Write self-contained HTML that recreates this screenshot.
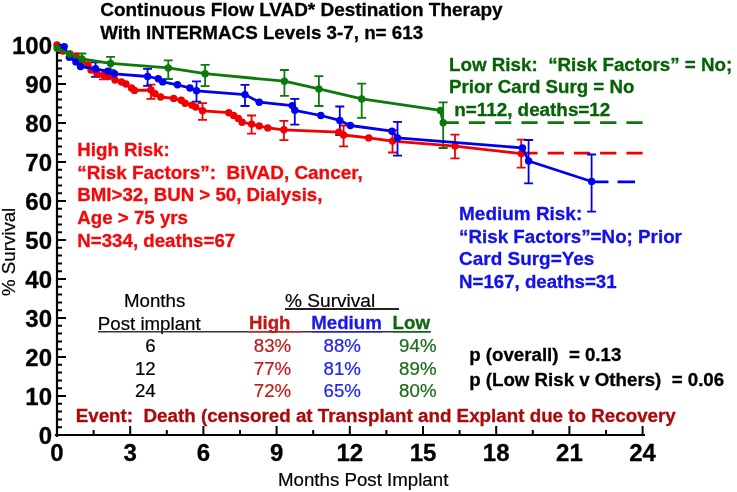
<!DOCTYPE html>
<html><head><meta charset="utf-8"><style>
html,body{margin:0;padding:0;background:#fff;}
svg{display:block;}
text{font-family:"Liberation Sans",Arial,sans-serif;white-space:pre;}
.b{font-weight:bold;font-size:18.7px;}
.r{font-size:18.7px;}
</style></head><body>
<svg width="737" height="492" viewBox="0 0 737 492">
<rect width="737" height="492" fill="#fff"/>
<g class="b" fill="#000" stroke="#000" stroke-width="0.3">
<text x="100.3" y="16.2" font-size="18.95">Continuous Flow LVAD* Destination Therapy</text>
<text x="100.3" y="38.9" font-size="18.8">With INTERMACS Levels 3-7, n= 613</text>
</g>
<!-- axes -->
<path d="M57,44 V437 M55,435 H645" stroke="#000" stroke-width="2.2" fill="none"/>
<path d="M57,435.0 h9 M57,427.2 h5 M57,419.4 h5 M57,411.6 h5 M57,403.8 h5 M57,396.0 h9 M57,388.2 h5 M57,380.4 h5 M57,372.6 h5 M57,364.8 h5 M57,357.0 h9 M57,349.2 h5 M57,341.4 h5 M57,333.6 h5 M57,325.8 h5 M57,318.0 h9 M57,310.2 h5 M57,302.4 h5 M57,294.6 h5 M57,286.8 h5 M57,279.0 h9 M57,271.2 h5 M57,263.4 h5 M57,255.6 h5 M57,247.8 h5 M57,240.0 h9 M57,232.2 h5 M57,224.4 h5 M57,216.6 h5 M57,208.8 h5 M57,201.0 h9 M57,193.2 h5 M57,185.4 h5 M57,177.6 h5 M57,169.8 h5 M57,162.0 h9 M57,154.2 h5 M57,146.4 h5 M57,138.6 h5 M57,130.8 h5 M57,123.0 h9 M57,115.2 h5 M57,107.4 h5 M57,99.6 h5 M57,91.8 h5 M57,84.0 h9 M57,76.2 h5 M57,68.4 h5 M57,60.6 h5 M57,52.8 h5 M57,45.0 h9 M57.0,435 v-9 M93.6,435 v-5 M130.2,435 v-9 M166.8,435 v-5 M203.4,435 v-9 M240.0,435 v-5 M276.6,435 v-9 M313.2,435 v-5 M349.8,435 v-9 M386.4,435 v-5 M423.0,435 v-9 M459.6,435 v-5 M496.2,435 v-9 M532.8,435 v-5 M569.4,435 v-9 M606.0,435 v-5 M642.6,435 v-9" stroke="#000" stroke-width="2" fill="none"/>
<g font-weight="bold" font-size="24" fill="#000" stroke="#000" stroke-width="0.3">
<text x="52" y="443.9" text-anchor="end">0</text>
<text x="52" y="404.9" text-anchor="end">10</text>
<text x="52" y="365.9" text-anchor="end">20</text>
<text x="52" y="326.9" text-anchor="end">30</text>
<text x="52" y="287.9" text-anchor="end">40</text>
<text x="52" y="248.9" text-anchor="end">50</text>
<text x="52" y="209.9" text-anchor="end">60</text>
<text x="52" y="170.9" text-anchor="end">70</text>
<text x="52" y="131.9" text-anchor="end">80</text>
<text x="52" y="92.9" text-anchor="end">90</text>
<text x="52" y="53.9" text-anchor="end">100</text>
<text x="57.0" y="460.8" text-anchor="middle">0</text>
<text x="130.2" y="460.8" text-anchor="middle">3</text>
<text x="203.4" y="460.8" text-anchor="middle">6</text>
<text x="276.6" y="460.8" text-anchor="middle">9</text>
<text x="349.8" y="460.8" text-anchor="middle">12</text>
<text x="423.0" y="460.8" text-anchor="middle">15</text>
<text x="496.2" y="460.8" text-anchor="middle">18</text>
<text x="569.4" y="460.8" text-anchor="middle">21</text>
<text x="642.6" y="460.8" text-anchor="middle">24</text>
</g>
<text class="r" stroke="#000" stroke-width="0.2" transform="translate(15.2,296) rotate(-90)">% Survival</text>
<text class="r" stroke="#000" stroke-width="0.2" x="278" y="486">Months Post Implant</text>
<!-- dashed tails -->
<path d="M626.4,122.7 H642.6 M600.1,122.7 H616.4 M573.9,122.7 H590.1 M547.6,122.7 H563.9 M521.4,122.7 H537.6 M495.1,122.7 H511.3 M468.9,122.7 H485.1 M443.0,122.7 H458.8" stroke="#0b7a0b" stroke-width="2.7" fill="none"/>
<path d="M626.4,153.2 H642.6 M600.1,153.2 H616.4 M573.9,153.2 H590.1 M547.6,153.2 H563.9 M521.4,153.2 H537.6" stroke="#f00000" stroke-width="2.7" fill="none"/>
<path d="M591,181.8 H608.5 M617.5,181.8 H635" stroke="#0000f0" stroke-width="2.7" fill="none"/>
<path d="M103.5,70.0 V79.4 M99.0,70.0 H108.0 M99.0,79.4 H108.0" stroke="#f00000" stroke-width="1.8" fill="none"/>
<path d="M151.0,84.6 V98.8 M146.5,84.6 H155.5 M146.5,98.8 H155.5" stroke="#f00000" stroke-width="1.8" fill="none"/>
<path d="M202.5,103.2 V119.9 M198.0,103.2 H207.0 M198.0,119.9 H207.0" stroke="#f00000" stroke-width="1.8" fill="none"/>
<path d="M251.6,115.5 V133.6 M247.1,115.5 H256.1 M247.1,133.6 H256.1" stroke="#f00000" stroke-width="1.8" fill="none"/>
<path d="M283.9,120.8 V140.2 M279.4,120.8 H288.4 M279.4,140.2 H288.4" stroke="#f00000" stroke-width="1.8" fill="none"/>
<path d="M343.6,125.5 V146.4 M339.1,125.5 H348.1 M339.1,146.4 H348.1" stroke="#f00000" stroke-width="1.8" fill="none"/>
<path d="M392.5,130.1 V152.5 M388.0,130.1 H397.0 M388.0,152.5 H397.0" stroke="#f00000" stroke-width="1.8" fill="none"/>
<path d="M455.0,134.7 V158.3 M450.5,134.7 H459.5 M450.5,158.3 H459.5" stroke="#f00000" stroke-width="1.8" fill="none"/>
<path d="M521.2,139.7 V167.7 M516.7,139.7 H525.7 M516.7,167.7 H525.7" stroke="#f00000" stroke-width="1.8" fill="none"/>
<path d="M95.6,62.4 V76.8 M91.1,62.4 H100.1 M91.1,76.8 H100.1" stroke="#0000f0" stroke-width="1.8" fill="none"/>
<path d="M147.6,68.8 V85.8 M143.1,68.8 H152.1 M143.1,85.8 H152.1" stroke="#0000f0" stroke-width="1.8" fill="none"/>
<path d="M196.5,81.3 V101.7 M192.0,81.3 H201.0 M192.0,101.7 H201.0" stroke="#0000f0" stroke-width="1.8" fill="none"/>
<path d="M245.0,84.8 V106.0 M240.5,84.8 H249.5 M240.5,106.0 H249.5" stroke="#0000f0" stroke-width="1.8" fill="none"/>
<path d="M294.8,98.9 V124.6 M290.3,98.9 H299.3 M290.3,124.6 H299.3" stroke="#0000f0" stroke-width="1.8" fill="none"/>
<path d="M339.8,106.5 V135.0 M335.3,106.5 H344.3 M335.3,135.0 H344.3" stroke="#0000f0" stroke-width="1.8" fill="none"/>
<path d="M397.5,121.9 V155.7 M393.0,121.9 H402.0 M393.0,155.7 H402.0" stroke="#0000f0" stroke-width="1.8" fill="none"/>
<path d="M528.6,140.0 V183.3 M524.1,140.0 H533.1 M524.1,183.3 H533.1" stroke="#0000f0" stroke-width="1.8" fill="none"/>
<path d="M591.6,154.5 V211.7 M587.1,154.5 H596.1 M587.1,211.7 H596.1" stroke="#0000f0" stroke-width="1.8" fill="none"/>
<path d="M81.8,53.5 V64.5 M77.3,53.5 H86.3 M77.3,64.5 H86.3" stroke="#0b7a0b" stroke-width="1.8" fill="none"/>
<path d="M110.6,56.9 V69.9 M106.1,56.9 H115.1 M106.1,69.9 H115.1" stroke="#0b7a0b" stroke-width="1.8" fill="none"/>
<path d="M168.3,60.3 V79.0 M163.8,60.3 H172.8 M163.8,79.0 H172.8" stroke="#0b7a0b" stroke-width="1.8" fill="none"/>
<path d="M205.1,64.8 V86.1 M200.6,64.8 H209.6 M200.6,86.1 H209.6" stroke="#0b7a0b" stroke-width="1.8" fill="none"/>
<path d="M284.4,70.0 V95.8 M279.9,70.0 H288.9 M279.9,95.8 H288.9" stroke="#0b7a0b" stroke-width="1.8" fill="none"/>
<path d="M318.9,76.1 V106.0 M314.4,76.1 H323.4 M314.4,106.0 H323.4" stroke="#0b7a0b" stroke-width="1.8" fill="none"/>
<path d="M361.7,83.7 V117.9 M357.2,83.7 H366.2 M357.2,117.9 H366.2" stroke="#0b7a0b" stroke-width="1.8" fill="none"/>
<path d="M443.2,102.4 V148.0 M438.7,102.4 H447.7 M438.7,148.0 H447.7" stroke="#0b7a0b" stroke-width="1.8" fill="none"/>
<path d="M57.0,44.9 L63.0,51.0 L70.0,54.0 L76.0,56.0 L82.0,60.0 L88.0,65.0 L91.0,70.0 L97.0,73.8 L103.5,75.0 L108.5,76.5 L115.0,80.0 L121.5,82.0 L126.0,84.0 L131.5,88.0 L134.5,90.4 L151.0,90.0 L155.0,93.7 L160.6,97.0 L173.7,98.4 L181.3,100.3 L185.1,103.2 L191.8,105.1 L195.6,107.0 L202.5,110.8 L228.8,112.7 L233.6,115.5 L238.3,118.4 L242.1,122.2 L251.6,124.1 L259.2,126.0 L267.8,127.9 L283.9,129.8 L338.9,132.2 L343.6,135.0 L368.7,137.9 L392.5,141.1 L455.0,146.1 L521.2,153.6" fill="none" stroke="#f00000" stroke-width="2.8" stroke-linejoin="round"/>
<circle cx="57.0" cy="44.9" r="3.7" fill="#f00000"/>
<circle cx="63.0" cy="51.0" r="3.7" fill="#f00000"/>
<circle cx="70.0" cy="54.0" r="3.7" fill="#f00000"/>
<circle cx="76.0" cy="56.0" r="3.7" fill="#f00000"/>
<circle cx="82.0" cy="60.0" r="3.7" fill="#f00000"/>
<circle cx="88.0" cy="65.0" r="3.7" fill="#f00000"/>
<circle cx="91.0" cy="70.0" r="3.7" fill="#f00000"/>
<circle cx="97.0" cy="73.8" r="3.7" fill="#f00000"/>
<circle cx="103.5" cy="75.0" r="3.7" fill="#f00000"/>
<circle cx="108.5" cy="76.5" r="3.7" fill="#f00000"/>
<circle cx="115.0" cy="80.0" r="3.7" fill="#f00000"/>
<circle cx="121.5" cy="82.0" r="3.7" fill="#f00000"/>
<circle cx="126.0" cy="84.0" r="3.7" fill="#f00000"/>
<circle cx="131.5" cy="88.0" r="3.7" fill="#f00000"/>
<circle cx="134.5" cy="90.4" r="3.7" fill="#f00000"/>
<circle cx="151.0" cy="90.0" r="3.7" fill="#f00000"/>
<circle cx="155.0" cy="93.7" r="3.7" fill="#f00000"/>
<circle cx="160.6" cy="97.0" r="3.7" fill="#f00000"/>
<circle cx="173.7" cy="98.4" r="3.7" fill="#f00000"/>
<circle cx="181.3" cy="100.3" r="3.7" fill="#f00000"/>
<circle cx="185.1" cy="103.2" r="3.7" fill="#f00000"/>
<circle cx="191.8" cy="105.1" r="3.7" fill="#f00000"/>
<circle cx="195.6" cy="107.0" r="3.7" fill="#f00000"/>
<circle cx="202.5" cy="110.8" r="3.7" fill="#f00000"/>
<circle cx="228.8" cy="112.7" r="3.7" fill="#f00000"/>
<circle cx="233.6" cy="115.5" r="3.7" fill="#f00000"/>
<circle cx="238.3" cy="118.4" r="3.7" fill="#f00000"/>
<circle cx="242.1" cy="122.2" r="3.7" fill="#f00000"/>
<circle cx="251.6" cy="124.1" r="3.7" fill="#f00000"/>
<circle cx="259.2" cy="126.0" r="3.7" fill="#f00000"/>
<circle cx="267.8" cy="127.9" r="3.7" fill="#f00000"/>
<circle cx="283.9" cy="129.8" r="3.7" fill="#f00000"/>
<circle cx="338.9" cy="132.2" r="3.7" fill="#f00000"/>
<circle cx="343.6" cy="135.0" r="3.7" fill="#f00000"/>
<circle cx="368.7" cy="137.9" r="3.7" fill="#f00000"/>
<circle cx="392.5" cy="141.1" r="3.7" fill="#f00000"/>
<circle cx="455.0" cy="146.1" r="3.7" fill="#f00000"/>
<circle cx="521.2" cy="153.6" r="3.7" fill="#f00000"/>
<path d="M57.0,45.0 L64.2,46.6 L69.3,57.3 L75.9,61.9 L80.5,66.5 L95.6,68.8 L107.9,71.3 L114.5,73.8 L147.6,76.5 L158.3,78.7 L162.7,81.9 L177.5,84.8 L189.9,88.0 L196.5,90.8 L245.0,94.6 L259.2,102.2 L292.3,105.6 L294.8,110.3 L320.8,115.5 L339.8,120.4 L350.3,125.5 L392.0,131.2 L397.5,137.9 L522.5,147.9 L528.6,161.0 L591.6,181.5" fill="none" stroke="#0000f0" stroke-width="2.8" stroke-linejoin="round"/>
<circle cx="64.2" cy="46.6" r="3.7" fill="#0000f0"/>
<circle cx="69.3" cy="57.3" r="3.7" fill="#0000f0"/>
<circle cx="75.9" cy="61.9" r="3.7" fill="#0000f0"/>
<circle cx="80.5" cy="66.5" r="3.7" fill="#0000f0"/>
<circle cx="95.6" cy="68.8" r="3.7" fill="#0000f0"/>
<circle cx="107.9" cy="71.3" r="3.7" fill="#0000f0"/>
<circle cx="114.5" cy="73.8" r="3.7" fill="#0000f0"/>
<circle cx="147.6" cy="76.5" r="3.7" fill="#0000f0"/>
<circle cx="158.3" cy="78.7" r="3.7" fill="#0000f0"/>
<circle cx="162.7" cy="81.9" r="3.7" fill="#0000f0"/>
<circle cx="177.5" cy="84.8" r="3.7" fill="#0000f0"/>
<circle cx="189.9" cy="88.0" r="3.7" fill="#0000f0"/>
<circle cx="196.5" cy="90.8" r="3.7" fill="#0000f0"/>
<circle cx="245.0" cy="94.6" r="3.7" fill="#0000f0"/>
<circle cx="259.2" cy="102.2" r="3.7" fill="#0000f0"/>
<circle cx="292.3" cy="105.6" r="3.7" fill="#0000f0"/>
<circle cx="294.8" cy="110.3" r="3.7" fill="#0000f0"/>
<circle cx="320.8" cy="115.5" r="3.7" fill="#0000f0"/>
<circle cx="339.8" cy="120.4" r="3.7" fill="#0000f0"/>
<circle cx="350.3" cy="125.5" r="3.7" fill="#0000f0"/>
<circle cx="392.0" cy="131.2" r="3.7" fill="#0000f0"/>
<circle cx="397.5" cy="137.9" r="3.7" fill="#0000f0"/>
<circle cx="522.5" cy="147.9" r="3.7" fill="#0000f0"/>
<circle cx="528.6" cy="161.0" r="3.7" fill="#0000f0"/>
<circle cx="591.6" cy="181.5" r="3.7" fill="#0000f0"/>
<path d="M57.1,48.2 L69.5,54.1 L81.8,59.0 L110.6,63.4 L168.3,67.9 L205.1,73.7 L284.4,81.2 L318.9,88.9 L361.7,98.9 L440.4,110.4 L443.2,122.7" fill="none" stroke="#0b7a0b" stroke-width="2.8" stroke-linejoin="round"/>
<circle cx="57.1" cy="48.2" r="3.7" fill="#0b7a0b"/>
<circle cx="69.5" cy="54.1" r="3.7" fill="#0b7a0b"/>
<circle cx="81.8" cy="59.0" r="3.7" fill="#0b7a0b"/>
<circle cx="110.6" cy="63.4" r="3.7" fill="#0b7a0b"/>
<circle cx="168.3" cy="67.9" r="3.7" fill="#0b7a0b"/>
<circle cx="205.1" cy="73.7" r="3.7" fill="#0b7a0b"/>
<circle cx="284.4" cy="81.2" r="3.7" fill="#0b7a0b"/>
<circle cx="318.9" cy="88.9" r="3.7" fill="#0b7a0b"/>
<circle cx="361.7" cy="98.9" r="3.7" fill="#0b7a0b"/>
<circle cx="440.4" cy="110.4" r="3.7" fill="#0b7a0b"/>
<circle cx="443.2" cy="122.7" r="3.7" fill="#0b7a0b"/>
<!-- legends -->
<g class="b" fill="#066206" stroke="#066206" stroke-width="0.3">
<text x="449" y="70.6" style="font-size:18.8px">Low Risk:  “Risk Factors” = No;</text>
<text x="449" y="93.1">Prior Card Surg = No</text>
<text x="449" y="116.0" style="font-size:18.85px"> n=112, deaths=12</text>
</g>
<g class="b" fill="#f20a0a" stroke="#f20a0a" stroke-width="0.3">
<text x="77.3" y="155.7">High Risk:</text>
<text x="77.3" y="178.7" style="font-size:18.92px">“Risk Factors”:  BiVAD, Cancer,</text>
<text x="77.3" y="201.2">BMI&gt;32, BUN &gt; 50, Dialysis,</text>
<text x="77.3" y="223.8">Age &gt; 75 yrs</text>
<text x="77.3" y="246.6">N=334, deaths=67</text>
</g>
<g class="b" fill="#1212e8" stroke="#1212e8" stroke-width="0.3">
<text x="459.1" y="220" style="font-size:18.95px">Medium Risk:</text>
<text x="459.1" y="242.6" style="font-size:18.8px">“Risk Factors”=No; Prior</text>
<text x="459.1" y="265" style="font-size:18.95px">Card Surg=Yes</text>
<text x="459.1" y="287.7" style="font-size:18.65px">N=167, deaths=31</text>
</g>
<!-- table -->
<g class="r" fill="#000" stroke="#000" stroke-width="0.2">
<text x="124" y="307.4">Months</text>
<text x="97.8" y="329.5">Post implant</text>
<text x="285" y="307.4" font-size="19.1">% Survival</text>
<text x="155.7" y="351.6" text-anchor="end">6</text>
<text x="155.7" y="374.5" text-anchor="end">12</text>
<text x="155.7" y="397.4" text-anchor="end">24</text>
</g>
<path d="M285,309 H399" stroke="#222" stroke-width="1.8"/>
<path d="M98,331.7 H431" stroke="#333" stroke-width="1.6"/>
<path d="M248,331.7 H302" stroke="#d02020" stroke-width="1.6"/>
<path d="M312,331.7 H382" stroke="#2020f0" stroke-width="1.6"/>
<path d="M393,331.7 H430" stroke="#116611" stroke-width="1.6"/>
<g class="b" stroke-width="0.3">
<text x="249" y="329.2" fill="#c01818" stroke="#c01818">High</text>
<text x="311.2" y="329.2" fill="#1a1ae6" stroke="#1a1ae6">Medium</text>
<text x="392.6" y="329.2" fill="#116611" stroke="#116611">Low</text>
</g>
<g class="r" text-anchor="middle" stroke-width="0.2">
<text x="272.5" y="352.2" fill="#c41a1a" stroke="#c41a1a">83%</text>
<text x="272.5" y="374.6" fill="#c41a1a" stroke="#c41a1a">77%</text>
<text x="272.5" y="397" fill="#c41a1a" stroke="#c41a1a">72%</text>
<text x="342.2" y="352.2" fill="#2222ee" stroke="#2222ee">88%</text>
<text x="342.2" y="374.6" fill="#2222ee" stroke="#2222ee">81%</text>
<text x="342.2" y="397" fill="#2222ee" stroke="#2222ee">65%</text>
<text x="417.8" y="352.2" fill="#1a6a1a" stroke="#1a6a1a">94%</text>
<text x="417.8" y="374.6" fill="#1a6a1a" stroke="#1a6a1a">89%</text>
<text x="417.8" y="397" fill="#1a6a1a" stroke="#1a6a1a">80%</text>
</g>
<g class="b" fill="#000" stroke="#000" stroke-width="0.3">
<text x="469.2" y="361.0">p (overall)  = 0.13</text>
<text x="469.2" y="386.1">p (Low Risk v Others)  = 0.06</text>
</g>
<text class="b" x="75.7" y="421.5" fill="#aa0a0a" stroke="#aa0a0a" stroke-width="0.3" style="font-size:18.8px">Event:  Death (censored at Transplant and Explant due to Recovery</text>
</svg>
</body></html>
